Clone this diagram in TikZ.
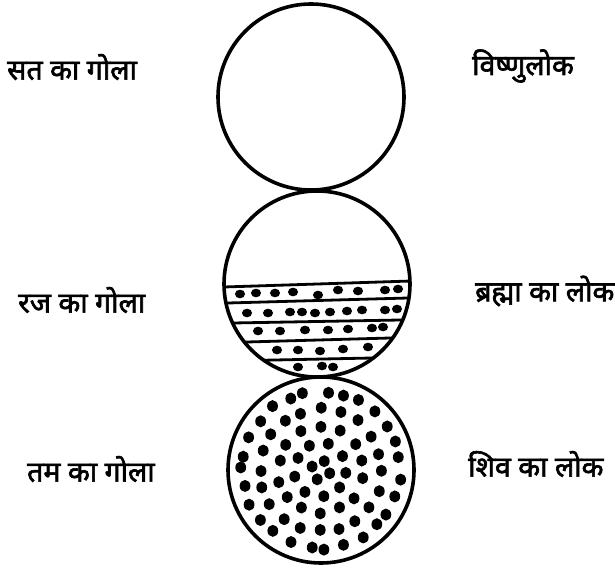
\documentclass[tikz,border=0pt]{standalone}
\usepackage{fontspec}
\newfontfamily\deva[Script=Devanagari,FakeBold=2.2]{Noto Sans}
\usetikzlibrary{positioning,calc}
\tikzset{rim/.style={line width=3.6pt},band/.style={line width=2.8pt,shorten <=-25pt,shorten >=-25pt},
  label/.style={anchor=west,inner sep=0pt,font=\deva\fontsize{28.5}{32}\selectfont}}
\begin{document}
\begin{tikzpicture}[x=1pt,y=-1pt]
\useasboundingbox (0,0) rectangle (615,569);
\def\r{93}
\coordinate (sat) at (311,97); \coordinate (raj) at (317,284); \coordinate (tam) at (321,470);
% three balls
\draw[rim] (sat) circle (\r); \draw[rim] (raj) circle (\r); \draw[rim] (tam) circle (\r);
% raj: dotted bands in the lower part
\begin{scope}
\clip (raj) circle (\r);
\foreach \xa/\ya/\xb/\yb in {224/287/411/281,228/303/408/298,233/323/400/320,247/342/390/338,275/360/372/358} \draw[band] (\xa,\ya) -- (\xb,\yb);
\foreach \x/\y in {240/294,256/293,275/293,293/292,318/295,338/290,358/291,385/290,398/289,
  247/313,268/313,290/312,302/312,315/313,330/312,347/311,362/310,385/310,397/309,
  258/331,280/331,305/330,328/330,348/329,372/328,383/327,
  277/350,298/350,320/351,343/349,368/347,
  298/367,322/366,333/367} \fill (\x,\y) ellipse (5.1 and 4.3);
\end{scope}
% tam: dots in rings
\pgfmathsetseed{11}
\foreach \rr/\n/\o in {10/4/20,26/9/5,43/14/12,61/20/0,79/27/6} {
  \foreach \k in {1,...,\n} {
    \pgfmathsetmacro\a{\o+360*\k/\n+3*rand}
    \pgfmathsetmacro\d{\rr+1.5*rand}
    \fill ([shift={(\a:\d)}]tam) ellipse (5.4 and 6);
  }
}
% labels
\node[label] (satlabel) at (7,67) {सत का गोला};
\node[label] (rajlabel) at (18,300) {रज का गोला};
\node[label] (tamlabel) at (27,469) {तम का गोला};
\node[label] (vishnu) at (472,66) {विष्णुलोक};
\node[label] (brahma) at (475,291) {ब्रह्मा का लोक};
\node[label] (shiva) at (468,464) {शिव का लोक};
\end{tikzpicture}
\end{document}
